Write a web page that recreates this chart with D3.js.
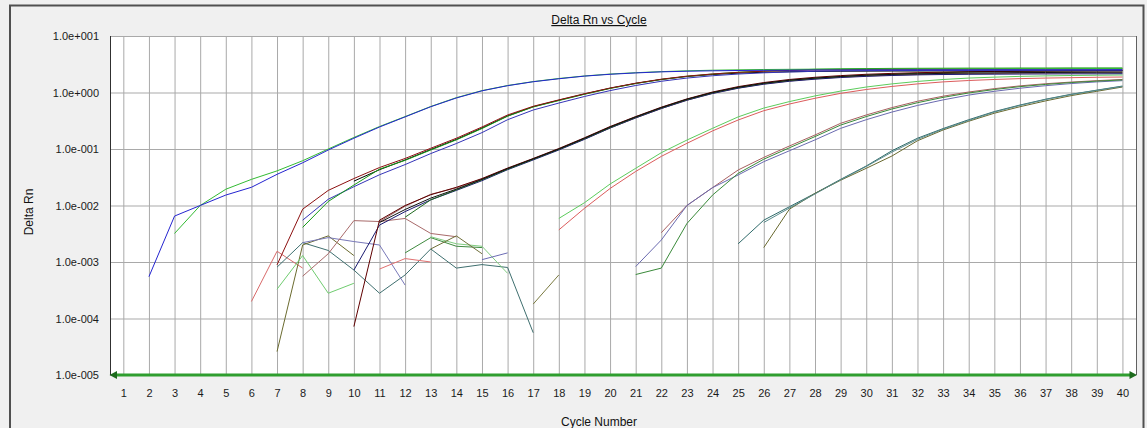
<!DOCTYPE html>
<html>
<head>
<meta charset="utf-8">
<script src="https://cdn.jsdelivr.net/npm/d3@7"></script>
<style>
  body { margin: 0; background: #f0f0f0; }
  text { font-family: "Liberation Sans", Arial, sans-serif; }
</style>
</head>
<body>
<svg id="chart" width="1147" height="428"></svg>
<script>
// cycle ticks and decade ticks
var cycleTicks = [1,2,3,4,5,6,7,8,9,10,11,12,13,14,15,16,17,18,19,20,
                  21,22,23,24,25,26,27,28,29,30,31,32,33,34,35,36,37,38,39,40];
var decadeTicks = [1e-5, 1e-4, 1e-3, 1e-2, 1e-1, 1, 10];

// amplification curves, values from their first cycle on
var ampBlueA = [5.5e-4, 6.5e-3, 0.010, 0.0153, 0.021, 0.0356, 0.057, 0.096, 0.155, 0.245, 0.37, 0.56, 0.80, 1.07, 1.32, 1.55, 1.75, 1.95, 2.10, 2.22, 2.32, 2.38, 2.42, 2.45, 2.47, 2.48, 2.50, 2.50, 2.51, 2.51, 2.52, 2.52, 2.52, 2.53, 2.53, 2.53, 2.53, 2.53, 2.54];
var ampGreenA = [3.2e-3, 0.0100, 0.0194, 0.029, 0.041, 0.062, 0.100, 0.160, 0.250, 0.375, 0.565, 0.81, 1.08, 1.33, 1.56, 1.77, 1.96, 2.12, 2.24, 2.34, 2.42, 2.48, 2.52, 2.55, 2.57, 2.59, 2.60, 2.61, 2.62, 2.63, 2.63, 2.64, 2.64, 2.65, 2.65, 2.65, 2.66, 2.66];
var ampRedB = [8.9e-4, 8.6e-3, 0.0185, 0.030, 0.047, 0.068, 0.103, 0.155, 0.245, 0.40, 0.57, 0.74, 0.95, 1.20, 1.46, 1.72, 1.95, 2.13, 2.27, 2.38, 2.46, 2.51, 2.54, 2.56, 2.57, 2.58, 2.58, 2.59, 2.59, 2.60, 2.60, 2.60, 2.61, 2.61];
var ampGreenB = [4.1e-3, 0.0118, 0.023, 0.044, 0.063, 0.096, 0.145, 0.23, 0.38, 0.555, 0.72, 0.93, 1.18, 1.44, 1.70, 1.93, 2.12, 2.28, 2.40, 2.50, 2.57, 2.62, 2.65, 2.67, 2.68, 2.69, 2.70, 2.70, 2.71, 2.71, 2.72, 2.72, 2.72];
var ampBlueB = [5.5e-3, 0.0129, 0.0215, 0.035, 0.053, 0.083, 0.125, 0.195, 0.33, 0.49, 0.65, 0.85, 1.08, 1.33, 1.58, 1.80, 1.98, 2.12, 2.23, 2.31, 2.37, 2.41, 2.43, 2.44, 2.45, 2.46, 2.46, 2.47, 2.47, 2.47, 2.48, 2.48, 2.48];
var ampBlackB = [0.027, 0.043, 0.064, 0.098, 0.148, 0.235, 0.385, 0.56, 0.73, 0.94, 1.19, 1.45, 1.70, 1.92, 2.08, 2.20, 2.28, 2.33, 2.36, 2.38, 2.39, 2.40, 2.40, 2.41, 2.41, 2.41, 2.42, 2.42, 2.42, 2.42, 2.42];
var ampBlackC = [5.0e-3, 8.5e-3, 0.0135, 0.0195, 0.029, 0.045, 0.067, 0.100, 0.155, 0.245, 0.37, 0.54, 0.76, 1.00, 1.24, 1.46, 1.65, 1.80, 1.92, 2.02, 2.09, 2.14, 2.18, 2.21, 2.23, 2.25, 2.26, 2.27, 2.28, 2.29];
var ampMaroonC = [7.2e-5, 5.5e-3, 0.010, 0.0155, 0.021, 0.030, 0.046, 0.068, 0.102, 0.158, 0.25, 0.375, 0.55, 0.77, 1.02, 1.27, 1.50, 1.70, 1.86, 1.99, 2.10, 2.18, 2.24, 2.29, 2.33, 2.36, 2.38, 2.40, 2.41, 2.42, 2.43];
var ampNavyC = [7.2e-4, 4.5e-3, 7.8e-3, 0.0126, 0.0185, 0.0275, 0.043, 0.064, 0.096, 0.148, 0.235, 0.355, 0.52, 0.73, 0.96, 1.19, 1.40, 1.58, 1.72, 1.84, 1.93, 2.00, 2.05, 2.08, 2.10, 2.11, 2.12, 2.13, 2.14, 2.14, 2.15];
var ampDkGreenC = [6.2e-3, 0.0126, 0.019, 0.0285, 0.044, 0.066, 0.099, 0.153, 0.24, 0.365, 0.535, 0.75, 0.99, 1.23, 1.45, 1.64, 1.79, 1.92, 2.03, 2.12, 2.19, 2.25, 2.30, 2.34, 2.37, 2.40, 2.42, 2.44, 2.45];
var ampRosyC = [5.2e-3, 9.7e-3, 0.0158, 0.0205, 0.0295, 0.045, 0.066, 0.098, 0.15, 0.235, 0.355, 0.52, 0.73, 0.97, 1.20, 1.42, 1.60, 1.75, 1.87, 1.96, 2.03, 2.08, 2.12, 2.15, 2.17, 2.19, 2.20, 2.21, 2.22, 2.23];
var ampGreenD = [5.9e-3, 0.0112, 0.024, 0.0455, 0.086, 0.144, 0.232, 0.37, 0.53, 0.69, 0.87, 1.06, 1.25, 1.42, 1.57, 1.70, 1.80, 1.87, 1.93, 1.97, 2.00, 2.02, 2.04];
var ampRedD = [3.7e-3, 8.9e-3, 0.020, 0.040, 0.074, 0.126, 0.209, 0.326, 0.476, 0.625, 0.79, 0.965, 1.13, 1.28, 1.42, 1.54, 1.63, 1.70, 1.76, 1.80, 1.83, 1.86, 1.88];
var ampRosyE = [3.3e-3, 0.010, 0.0207, 0.0425, 0.071, 0.113, 0.177, 0.285, 0.40, 0.54, 0.70, 0.86, 1.02, 1.17, 1.31, 1.43, 1.53, 1.62, 1.70];
var ampLavE = [8.3e-4, 2.45e-3, 0.010, 0.0207, 0.0347, 0.0596, 0.093, 0.145, 0.232, 0.33, 0.45, 0.59, 0.74, 0.90, 1.05, 1.19, 1.32, 1.44, 1.54, 1.62];
var ampGreenE = [6.0e-4, 7.8e-4, 4.8e-3, 0.0153, 0.037, 0.066, 0.105, 0.166, 0.265, 0.375, 0.51, 0.66, 0.82, 0.98, 1.13, 1.27, 1.39, 1.50, 1.59, 1.67];
var ampTealF = [2.1e-3, 5.5e-3, 9.5e-3, 0.0164, 0.029, 0.050, 0.093, 0.155, 0.23, 0.33, 0.46, 0.60, 0.76, 0.93, 1.10, 1.30];
var ampOliveF = [1.8e-3, 8.6e-3, 0.0164, 0.028, 0.0455, 0.075, 0.14, 0.217, 0.31, 0.43, 0.56, 0.71, 0.88, 1.05, 1.25];
var ampSlateF = [5.0e-3, 9.0e-3, 0.016, 0.0285, 0.049, 0.088, 0.148, 0.225, 0.32, 0.45, 0.59, 0.75, 0.92, 1.09, 1.28];

// background noise of the non-amplifying wells
var noisePink1 = [2.0e-4, 1.55e-3, 7.8e-4];
var noiseSlate = [8.1e-4, 2.2e-3, 1.6e-3, 7.2e-4, 2.8e-4, 5.9e-4, 1.7e-3, 7.8e-4, 9.0e-4, 8.0e-4, 5.6e-5];
var noiseOlive1 = [2.6e-5, 2.0e-3, 2.9e-3, 1.3e-3];
var noiseGreen1 = [3.3e-4, 1.3e-3, 2.8e-4, 4.2e-4];
var noiseLav1 = [2.2e-3, 2.7e-3, 2.3e-3, 2.0e-3, 3.9e-4];
var noiseRosy = [5.6e-4, 1.4e-3, 5.4e-3, 5.2e-3, 5.9e-3, 3.2e-3, 2.8e-3];
var noisePink2 = [7.5e-4, 1.15e-3, 1.0e-3];
var noiseDkGreen = [1.45e-3, 2.7e-3, 1.9e-3, 1.8e-3];
var noiseGreen2 = [2.8e-3, 2.1e-3, 1.9e-3, 6.3e-4];
var noiseOlive2 = [1.7e-3, 2.9e-3, 1.4e-3];
var noiseLav2 = [1.1e-3, 1.45e-3];
var noiseOlive3 = [1.8e-4, 5.9e-4];

var seriesValues = [noisePink1, noiseSlate, noiseOlive1, noiseGreen1, noiseLav1, noiseRosy, noisePink2,
  noiseDkGreen, noiseGreen2, noiseOlive2, noiseLav2, noiseOlive3,
  ampTealF, ampOliveF, ampSlateF, ampRosyE, ampLavE, ampGreenE, ampGreenD, ampRedD,
  ampRosyC, ampNavyC, ampDkGreenC, ampMaroonC, ampBlackC,
  ampBlackB, ampBlueB, ampGreenB, ampRedB, ampGreenA, ampBlueA];
var seriesStart = [6, 7, 7, 7, 8, 8, 11,
  12, 13, 13, 15, 17,
  25, 26, 26, 22, 21, 21, 18, 18,
  11, 10, 12, 10, 11,
  10, 8, 8, 7, 3, 2];
var seriesColors = ["#d86a6a", "#3f6f6f", "#6b6b2f", "#6fcc6f", "#7878b8", "#a86a6a", "#e07070",
  "#3f8a3f", "#80cc80", "#70703a", "#6c6cb4", "#7a7a40",
  "#2f6a6a", "#6a6a30", "#5a8c8c", "#a86060", "#6a6ab0", "#3a8a3a", "#5ccc5c", "#dc5c5c",
  "#9a6060", "#1a1a70", "#1f6a1f", "#600000", "#111111",
  "#000000", "#3434b8", "#159a15", "#8c1010", "#33bb33", "#2424d0"];

var svg = d3.select("#chart");
var plot = { left: 110, top: 36, right: 1136, bottom: 375 };
var pw = plot.right - plot.left, ph = plot.bottom - plot.top;

svg.append("rect").attr("width", 1147).attr("height", 428).attr("fill", "#f0f0f0");
svg.append("path").attr("d", "M10,428V5.5H1143.5V428")
  .attr("fill", "none").attr("stroke", "#505050").attr("stroke-width", 2);

var x = d3.scaleLinear().domain([0.48, 40.53]).range([plot.left, plot.right]);
var y = d3.scaleLog().domain([1e-5, 10]).range([plot.bottom, plot.top]);

svg.append("rect").attr("x", plot.left).attr("y", plot.top)
  .attr("width", pw).attr("height", ph).attr("fill", "#fff");

// grid
svg.append("g").attr("transform", "translate(0," + plot.bottom + ")")
  .call(d3.axisBottom(x).tickValues(cycleTicks).tickSize(-ph).tickFormat(""))
  .call(function(g) { g.select(".domain").remove(); })
  .selectAll("line").attr("stroke", "#a9a9a9");
svg.append("g").attr("transform", "translate(" + plot.left + ",0)")
  .call(d3.axisLeft(y).tickValues(decadeTicks).tickSize(-pw).tickFormat(""))
  .call(function(g) { g.select(".domain").remove(); })
  .selectAll("line").attr("stroke", "#a9a9a9");

// plot edges
svg.append("line").attr("x1", plot.left + 0.5).attr("x2", plot.left + 0.5)
  .attr("y1", plot.top).attr("y2", plot.bottom).attr("stroke", "#303030");
svg.append("line").attr("x1", plot.right + 0.5).attr("x2", plot.right + 0.5)
  .attr("y1", plot.top).attr("y2", plot.bottom).attr("stroke", "#606060");

// curves
var line = d3.line()
  .x(function(d) { return x(d.c); })
  .y(function(d) { return y(d.v); });

svg.append("g").selectAll("path")
  .data(seriesValues)
  .enter().append("path")
    .attr("fill", "none")
    .attr("stroke-width", 1)
    .attr("stroke", function(d, i) { return seriesColors[i]; })
    .attr("d", function(d, i) {
      return line(d.map(function(v, j) { return { c: seriesStart[i] + j, v: v }; }));
    });

// green baseline with arrows
svg.append("line").attr("x1", plot.left + 4).attr("x2", plot.right - 4)
  .attr("y1", plot.bottom).attr("y2", plot.bottom)
  .attr("stroke", "#2f9e2f").attr("stroke-width", 3);
svg.append("path").attr("d", "M109.5,375L117,371L117,379Z").attr("fill", "#1d6b1d");
svg.append("path").attr("d", "M1137,375L1129.5,371L1129.5,379Z").attr("fill", "#1d6b1d");

// tick labels
function expFormat(v) {
  var e = Math.round(Math.log10(v));
  return "1.0e" + (e < 0 ? "-" : "+") + String(Math.abs(e)).padStart(3, "0");
}
var yAxis = svg.append("g").attr("transform", "translate(" + plot.left + ",0)")
  .call(d3.axisLeft(y).tickValues(decadeTicks).tickSize(0).tickPadding(11).tickFormat(expFormat));
yAxis.select(".domain").remove();
yAxis.selectAll("text").attr("font-family", "Liberation Sans, Arial, sans-serif")
  .attr("font-size", 11).attr("fill", "#1a1a1a");

var xAxis = svg.append("g").attr("transform", "translate(0," + plot.bottom + ")")
  .call(d3.axisBottom(x).tickValues(cycleTicks).tickSize(0));
xAxis.select(".domain").remove();
xAxis.selectAll("text").attr("y", 18).attr("dy", "0.35em")
  .attr("font-family", "Liberation Sans, Arial, sans-serif")
  .attr("font-size", 11).attr("fill", "#1a1a1a");

// titles
svg.append("text").attr("x", 599).attr("y", 24).attr("text-anchor", "middle")
  .attr("font-size", 12).attr("fill", "#111").style("text-decoration", "underline")
  .text("Delta Rn vs Cycle");
svg.append("text").attr("x", 599).attr("y", 422).attr("dy", "0.35em")
  .attr("text-anchor", "middle").attr("font-size", 12).attr("fill", "#111")
  .text("Cycle Number");
svg.append("text").attr("transform", "translate(29,212) rotate(-90)")
  .attr("dy", "0.35em").attr("text-anchor", "middle")
  .attr("font-size", 12).attr("fill", "#111")
  .text("Delta Rn");
</script>
</body>
</html>
